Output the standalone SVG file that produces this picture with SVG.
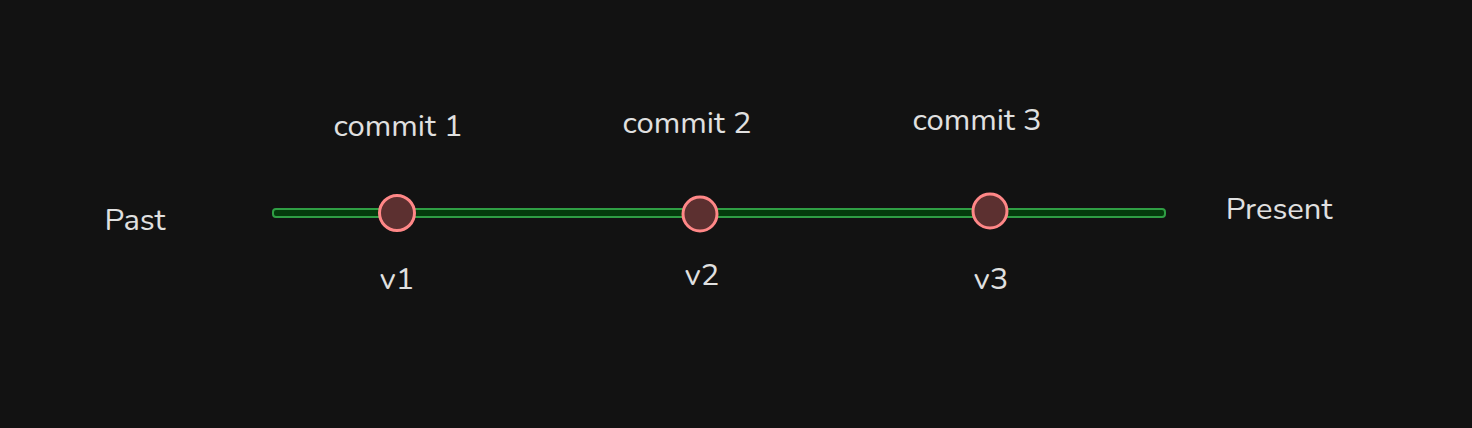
<svg xmlns="http://www.w3.org/2000/svg" width="1472" height="428" viewBox="0 0 1472 428">
<style>
.t{font-family:"Nunito","Open Sans","Liberation Sans",sans-serif;font-size:31px;fill:#e0e0e0;text-anchor:middle}
.dot{fill:#5c3030;stroke:#ff8787;stroke-width:3}
</style>
<rect width="1472" height="428" fill="#121212"/>
<g id="connectors">
<rect id="timeline" x="273" y="209" width="892" height="8" rx="3" fill="#043b0c" stroke="#2f9e44" stroke-width="2"/>
</g>
<g id="past"><text class="t" x="135" y="230">Past</text></g>
<g id="present"><text class="t" x="1279" y="219">Present</text></g>
<g id="node1">
<circle class="dot" cx="397" cy="213" r="17.5"/>
<text class="t" x="398" y="136">commit 1</text>
<text class="t" x="397" y="289">v1</text>
</g>
<g id="node2">
<circle class="dot" cx="700" cy="214" r="17"/>
<text class="t" x="687" y="133">commit 2</text>
<text class="t" x="702" y="285">v2</text>
</g>
<g id="node3">
<circle class="dot" cx="990" cy="211" r="17"/>
<text class="t" x="977" y="130">commit 3</text>
<text class="t" x="991" y="289">v3</text>
</g>
</svg>
